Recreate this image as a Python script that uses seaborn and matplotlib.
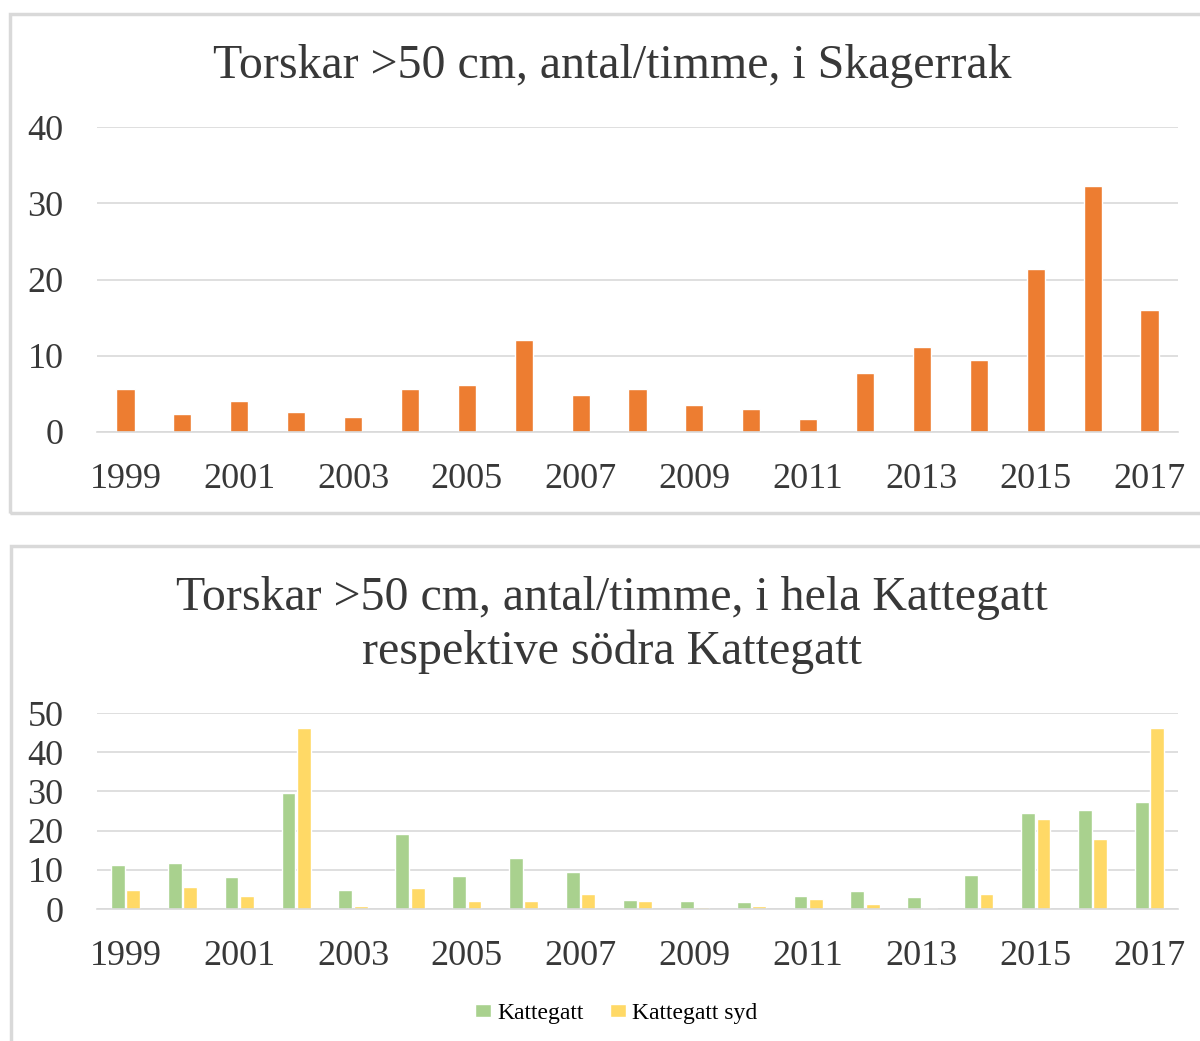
import pandas as pd
import numpy as np
import seaborn as sns
import matplotlib.pyplot as plt
from matplotlib.patches import Rectangle

# data
years = [str(y) for y in range(1999, 2018)]
skagerrak = [5.6, 2.4, 4.1, 2.6, 2.0, 5.6, 6.2, 12.1, 4.9, 5.6,
             3.5, 3.0, 1.7, 7.7, 11.1, 9.4, 21.4, 32.3, 16.0]
kattegatt = [11.1, 11.8, 8.2, 29.6, 4.8, 19.1, 8.5, 13.0, 9.5, 2.4,
             2.1, 1.7, 3.3, 4.5, 3.1, 8.6, 24.5, 25.3, 27.3]
kattegatt_syd = [4.85, 5.6, 3.2, 46.3, 0.85, 5.4, 2.1, 2.1, 3.7, 2.0,
                 0.6, 0.85, 2.5, 1.3, 0.2, 3.7, 23.0, 17.8, 46.3]

W, H = 1200, 1041
txt = '#383838'
grid = '#d9d9d9'

sns.set_style('white')
plt.rcParams['font.family'] = ['Liberation Serif', 'DejaVu Serif']

fig = plt.figure(figsize=(W / 100, H / 100), dpi=100)


def px(x0, y0, x1, y1):
    # pixel box (top-left origin) -> figure fraction rect
    return [x0 / W, 1 - y1 / H, (x1 - x0) / W, (y1 - y0) / H]


# panel frames
fig.patches.append(Rectangle((9.5 / W, 1 - 513 / H), 1200 / W, 499 / H,
                             transform=fig.transFigure, fill=False,
                             ec=grid, lw=2.5))
fig.patches.append(Rectangle((10.5 / W, -10 / H), 1200 / W, (H + 10 - 546) / H,
                             transform=fig.transFigure, fill=False,
                             ec=grid, lw=2.5))


def style(ax, ymax, step):
    ax.set_ylim(0, ymax)
    ax.set_yticks(np.arange(0, ymax + 1, step))
    ax.set_xlim(-0.5, len(years) - 0.5)
    ax.set_xticks(range(len(years)))
    ax.set_xticklabels([y if i % 2 == 0 else '' for i, y in enumerate(years)])
    ax.yaxis.grid(True, color=grid, lw=1.2)
    ax.set_axisbelow(True)
    for s in ['top', 'right', 'left']:
        ax.spines[s].set_visible(False)
    ax.spines['bottom'].set_color(grid)
    ax.spines['bottom'].set_linewidth(1.2)
    ax.tick_params(axis='x', length=0, pad=22, labelsize=26, labelcolor=txt)
    ax.tick_params(axis='y', length=0, pad=24, labelsize=26, labelcolor=txt)
    ax.set_xlabel('')
    ax.set_ylabel('')


# top chart
ax1 = fig.add_axes(px(97, 127, 1178, 432))
df1 = pd.DataFrame({'year': years, 'value': skagerrak})
sns.barplot(data=df1, x='year', y='value', color='#ED7D31', width=0.32,
            saturation=1, ax=ax1)
style(ax1, 40, 10)
fig.text(612 / W, 1 - 78 / H, 'Torskar >50 cm, antal/timme, i Skagerrak',
         ha='center', va='baseline', fontsize=34.5, color=txt)

# bottom chart
ax2 = fig.add_axes(px(97, 713, 1178, 909))
df2 = pd.DataFrame({
    'year': years * 2,
    'value': kattegatt + kattegatt_syd,
    'serie': ['Kattegatt'] * len(years) + ['Kattegatt syd'] * len(years),
})
sns.barplot(data=df2, x='year', y='value', hue='serie',
            palette=['#A9D18E', '#FFD966'], width=0.54, gap=0.1,
            saturation=1, ax=ax2)
style(ax2, 50, 10)
handles, labels = ax2.get_legend_handles_labels()
ax2.get_legend().remove()
fig.text(612 / W, 1 - 610 / H, 'Torskar >50 cm, antal/timme, i hela Kattegatt',
         ha='center', va='baseline', fontsize=34.5, color=txt)
fig.text(612 / W, 1 - 664 / H, 'respektive södra Kattegatt',
         ha='center', va='baseline', fontsize=34.5, color=txt)
fig.legend(handles, labels, loc='center', bbox_to_anchor=(616 / W, 1 - 1013 / H),
           ncol=2, frameon=False, fontsize=17, handlelength=0.7,
           handleheight=0.48, handletextpad=0.25, columnspacing=1.1,
           labelcolor='black')

plt.savefig('out.png', dpi=100)
